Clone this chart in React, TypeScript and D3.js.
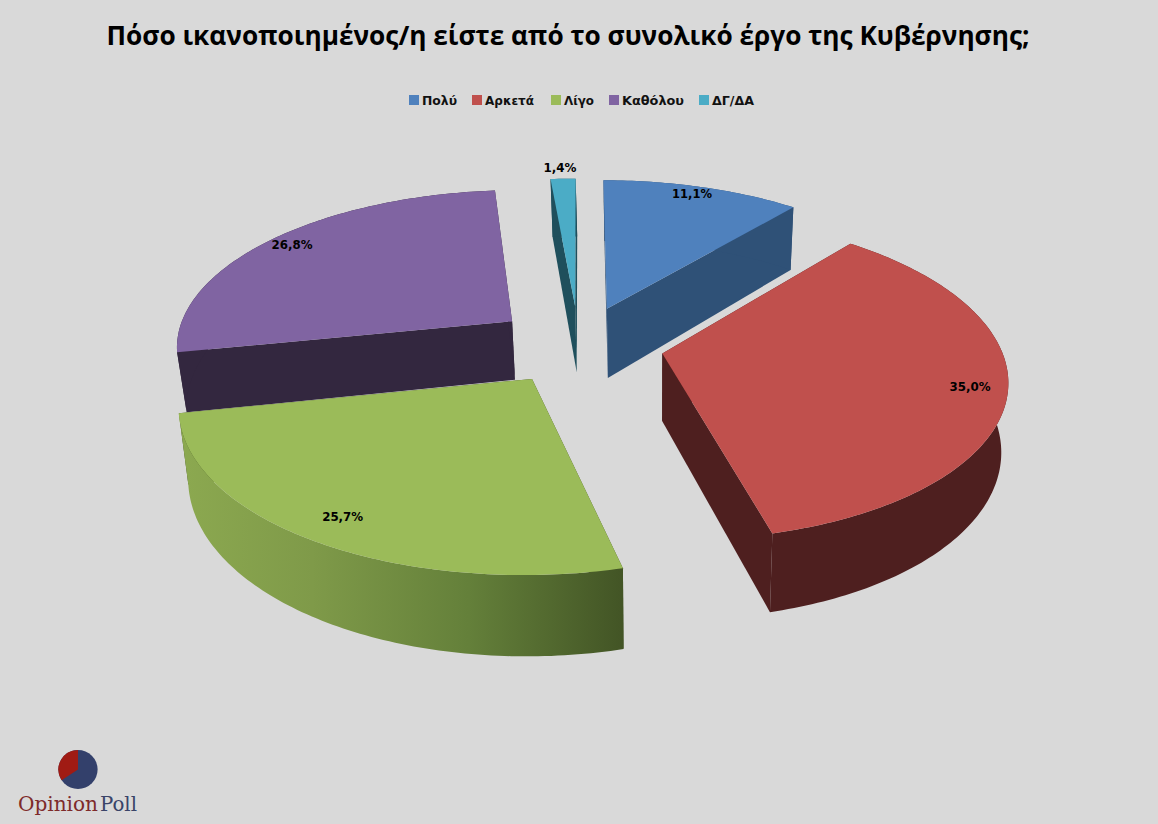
import React from "react";
import * as d3 from "d3";

const categories = ["Πολύ", "Αρκετά", "Λίγο", "Καθόλου", "ΔΓ/ΔΑ"];
const percents = [11.1, 35.0, 25.7, 26.8, 1.4];
const percentLabels = ["11,1%", "35,0%", "25,7%", "26,8%", "1,4%"];
const title = "Πόσο ικανοποιημένος/η είστε από το συνολικό έργο της Κυβέρνησης;";

const topColors = ["#4F81BD", "#C0504D", "#9BBB59", "#8064A2", "#4BACC6"];
const wallColors = ["#2F5177", "#4E1F1F", "#3F4F20", "#33273F", "#1F4F5C"];
const depthFactor = [1.07, 1.0, 1.0, 0.89, 1.02];
const labelRadius = [0.94, 0.885, 0.87, 0.92, 1.1];
const labelShiftX = [-5, 3, -2, 1, -2];
const labelWidths = [40, 41, 41, 41, 33];
const legendX = [409, 472, 551, 609, 699];
const legendWidths = [35, 49, 30, 62, 42];

const W = 1158, H = 824;
const CX = 578.8, CY = 344.5, K = 0.464, P = 0.00043;
const R = 337.5, EXPLODE = 85, DEPTH = 67, BOTTOM_SCALE = 0.98, BOTTOM_SHIFT = 1.5;

const persp = (Y: number) => 1 / (1 + P * Y);

function project(X: number, Y: number) {
  const s = persp(Y);
  return [CX + X * s, CY - K * Y * s];
}
function projectBottom(X: number, Y: number, f: number) {
  const s = persp(Y);
  return [CX + BOTTOM_SHIFT + X * s * BOTTOM_SCALE, CY - K * Y * s + DEPTH * s * f];
}

const pie = d3.pie<number>().sort(null).value((d) => d)(percents);
const linePath = d3.line<number[]>().x((d) => d[0]).y((d) => d[1]);

function slicePaths(i: number) {
  const a = pie[i];
  const mid = (a.startAngle + a.endAngle) / 2;
  const ox = EXPLODE * Math.sin(mid), oy = EXPLODE * Math.cos(mid);
  const f = depthFactor[i];
  const n = Math.max(4, Math.ceil((a.endAngle - a.startAngle) * 60));
  const angles = d3.range(n + 1).map((j) => a.startAngle + ((a.endAngle - a.startAngle) * j) / n);
  const world = angles.map((t) => [ox + R * Math.sin(t), oy + R * Math.cos(t)]);
  const topArc = world.map(([x, y]) => project(x, y));
  const botArc = world.map(([x, y]) => projectBottom(x, y, f));
  const apexT = project(ox, oy);
  const apexB = projectBottom(ox, oy, f);
  const top = linePath([apexT, ...topArc])! + "Z";
  const outer = linePath([...topArc, ...botArc.slice().reverse()])! + "Z";
  const wallA = linePath([apexT, topArc[0], botArc[0], apexB])! + "Z";
  const wallB = linePath([apexT, topArc[n], botArc[n], apexB])! + "Z";
  const lr = R * labelRadius[i];
  const label = project(ox + lr * Math.sin(mid), oy + lr * Math.cos(mid));
  return { top, outer, wallA, wallB, label };
}

const drawOrder = [4, 0, 3, 1, 2];
const slices = percents.map((_, i) => slicePaths(i));

const logoArc = d3.arc();
const LOGO_R = 19.6;

export default function App() {
  const font = "'DejaVu Sans', sans-serif";
  return (
    <svg width={W} height={H} style={{ position: "absolute", left: 0, top: 0, display: "block" }}>
      <defs>
        <linearGradient id="greenWall" gradientUnits="userSpaceOnUse" x1={178} y1={0} x2={625} y2={0}>
          <stop offset="0" stopColor="#8CA950" />
          <stop offset="0.3" stopColor="#7F9A49" />
          <stop offset="0.65" stopColor="#64803A" />
          <stop offset="1" stopColor="#425425" />
        </linearGradient>
      </defs>
      <rect width={W} height={H} fill="#D9D9D9" />
      <text x={568} y={45} textAnchor="middle" fontFamily="'Open Sans', sans-serif" fontWeight={700}
        fontSize={27.5} fill="#000" textLength={923} lengthAdjust="spacingAndGlyphs">{title}</text>

      {categories.map((c, i) => (
        <g key={c}>
          <rect x={legendX[i]} y={95} width={10} height={10} fill={topColors[i]} />
          <text x={legendX[i] + 13} y={104.5} fontFamily={font} fontWeight={700} fontSize={13}
            fill="#111" textLength={legendWidths[i]} lengthAdjust="spacingAndGlyphs">{c}</text>
        </g>
      ))}

      {drawOrder.map((i) => {
        const s = slices[i];
        return (
          <g key={categories[i]}>
            <path d={s.wallA} fill={wallColors[i]} />
            <path d={s.wallB} fill={wallColors[i]} />
            <path d={s.outer} fill={i === 2 ? "url(#greenWall)" : wallColors[i]} />
            <path d={s.top} fill={topColors[i]} />
          </g>
        );
      })}

      {percentLabels.map((t, i) => (
        <text key={t} x={slices[i].label[0] + labelShiftX[i]} y={slices[i].label[1]} dy="0.35em" textAnchor="middle"
          fontFamily={font} fontWeight={700} fontSize={13} fill="#000"
          textLength={labelWidths[i]} lengthAdjust="spacingAndGlyphs">{t}</text>
      ))}

      <g transform="translate(78,769.5)">
        <circle r={LOGO_R} fill="#33406B" />
        <path fill="#A01B14" d={logoArc({ innerRadius: 0, outerRadius: LOGO_R, startAngle: (-123 * Math.PI) / 180, endAngle: 0 }) as string} />
      </g>
      <text x={18} y={811} fontFamily="'DejaVu Serif', serif" fontSize={21} fill="#7E2A2A"
        textLength={80} lengthAdjust="spacingAndGlyphs">Opinion</text>
      <text x={100} y={811} fontFamily="'DejaVu Serif', serif" fontSize={21} fill="#3A4468"
        textLength={37} lengthAdjust="spacingAndGlyphs">Poll</text>
    </svg>
  );
}
